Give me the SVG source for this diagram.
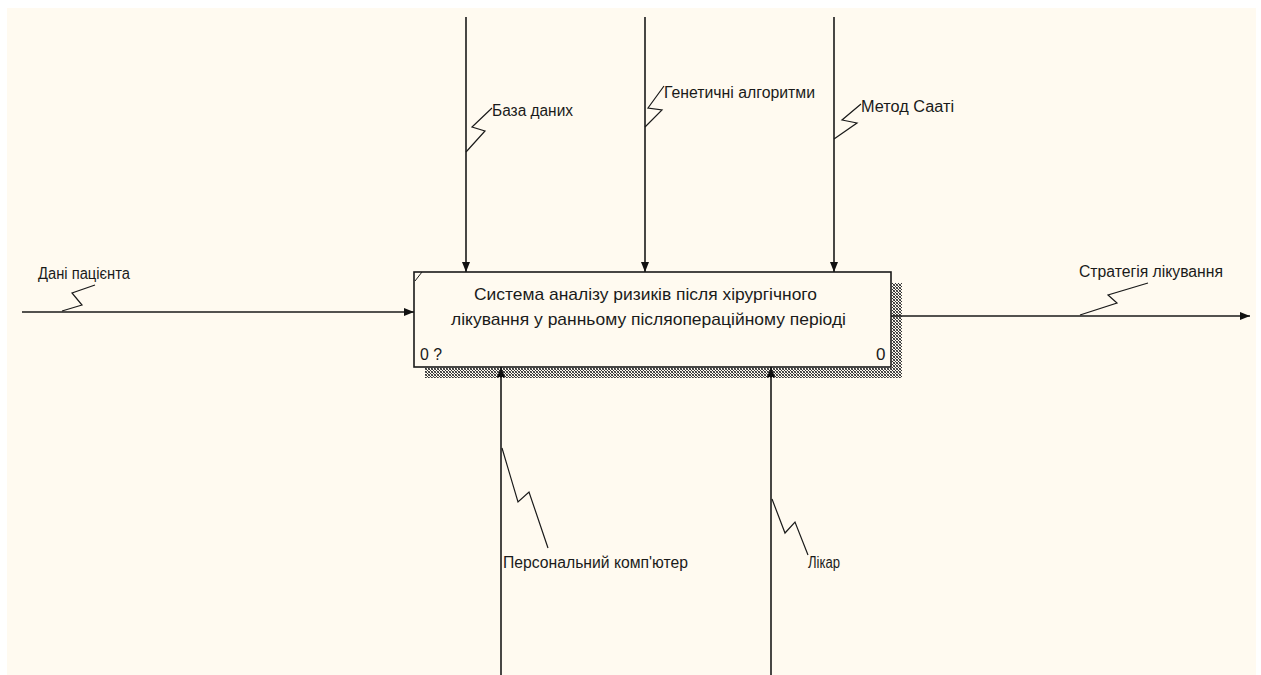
<svg xmlns="http://www.w3.org/2000/svg" width="1261" height="675" viewBox="0 0 1261 675">
  <defs>
    <style>
      .ln{stroke:#1a1a1a;stroke-width:1.6;fill:none}
      .sq{stroke:#1a1a1a;stroke-width:1.2;fill:none}
      .lbl{font-family:"Liberation Sans",Arial,sans-serif;font-size:16px;fill:#1a1a1a}
      .ttl{font-family:"Liberation Sans",Arial,sans-serif;font-size:17px;fill:#1a1a1a}
    </style>
    <marker id="ah" viewBox="0 0 10 8" refX="10" refY="4" markerWidth="10" markerHeight="8" markerUnits="userSpaceOnUse" orient="auto">
      <path d="M0,0 L10,4 L0,8 Z" fill="#111"/>
    </marker>
    <pattern id="hatch" width="3" height="3" patternUnits="userSpaceOnUse">
      <rect width="3" height="3" fill="#fffaf0"/>
      <rect x="0" y="0" width="1" height="1" fill="#333"/>
      <rect x="1" y="1" width="1" height="1" fill="#333"/>
      <rect x="2" y="2" width="1" height="1" fill="#333"/>
      <rect x="2" y="0" width="1" height="1" fill="#666"/>
      <rect x="0" y="2" width="1" height="1" fill="#666"/>
    </pattern>
  </defs>
  <rect x="0" y="0" width="1261" height="675" fill="#ffffff"/>
  <rect x="7" y="8" width="1249" height="667" fill="#fffaf0"/>

  <g id="node-A0">
    <rect x="425" y="368" width="477" height="10" fill="url(#hatch)"/>
    <rect x="892" y="283" width="10" height="95" fill="url(#hatch)"/>
    <rect x="414" y="272" width="477" height="95" fill="#fffaf0" stroke="#1a1a1a" stroke-width="1.6"/>
    <line x1="415" y1="281" x2="422" y2="272" stroke="#1a1a1a" stroke-width="1"/>
    <text class="ttl" x="645.5" y="300" text-anchor="middle" textLength="343" lengthAdjust="spacingAndGlyphs">Система аналізу ризиків після хірургічного</text>
    <text class="ttl" x="648.5" y="325" text-anchor="middle" textLength="395" lengthAdjust="spacingAndGlyphs">лікування у ранньому післяопераційному періоді</text>
    <text class="ttl" x="420" y="360" textLength="22" lengthAdjust="spacingAndGlyphs">0 ?</text>
    <text class="ttl" x="876" y="360">0</text>
  </g>

  <g id="connectors">
    <!-- input -->
    <line class="ln" x1="22" y1="312" x2="414" y2="312" marker-end="url(#ah)"/>
    <polyline class="sq" points="62,311 82,305 72,293 95,285"/>
    <!-- output -->
    <line class="ln" x1="891" y1="316" x2="1250" y2="316" marker-end="url(#ah)"/>
    <polyline class="sq" points="1080,315 1117,303 1108,295 1148,283"/>
    <!-- controls -->
    <line class="ln" x1="466" y1="17" x2="466" y2="272" marker-end="url(#ah)"/>
    <polyline class="sq" points="466,152 485,131 472,127 492,108"/>
    <line class="ln" x1="645" y1="17" x2="645" y2="272" marker-end="url(#ah)"/>
    <polyline class="sq" points="645,127 662,110 648,108 664,86"/>
    <line class="ln" x1="834" y1="17" x2="834" y2="272" marker-end="url(#ah)"/>
    <polyline class="sq" points="834,139 857,123 842,120 861,104"/>
    <!-- mechanisms -->
    <line class="ln" x1="501" y1="675" x2="501" y2="367" marker-end="url(#ah)"/>
    <polyline class="sq" points="502,448 518,502 529,492 548,548"/>
    <line class="ln" x1="771" y1="675" x2="771" y2="367" marker-end="url(#ah)"/>
    <polyline class="sq" points="772,499 785,533 795,522 808,555"/>
  </g>

  <g id="labels">
    <text class="lbl" x="38" y="279" textLength="92" lengthAdjust="spacingAndGlyphs">Дані пацієнта</text>
    <text class="lbl" x="1079" y="277" textLength="144" lengthAdjust="spacingAndGlyphs">Стратегія лікування</text>
    <text class="lbl" x="492" y="116" textLength="81" lengthAdjust="spacingAndGlyphs">База даних</text>
    <text class="lbl" x="664" y="98" textLength="151" lengthAdjust="spacingAndGlyphs">Генетичні алгоритми</text>
    <text class="lbl" x="861" y="112" textLength="93" lengthAdjust="spacingAndGlyphs">Метод Сааті</text>
    <text class="lbl" x="503" y="568" textLength="185" lengthAdjust="spacingAndGlyphs">Персональний комп'ютер</text>
    <text class="lbl" x="808" y="568" textLength="32" lengthAdjust="spacingAndGlyphs">Лікар</text>
  </g>
</svg>
